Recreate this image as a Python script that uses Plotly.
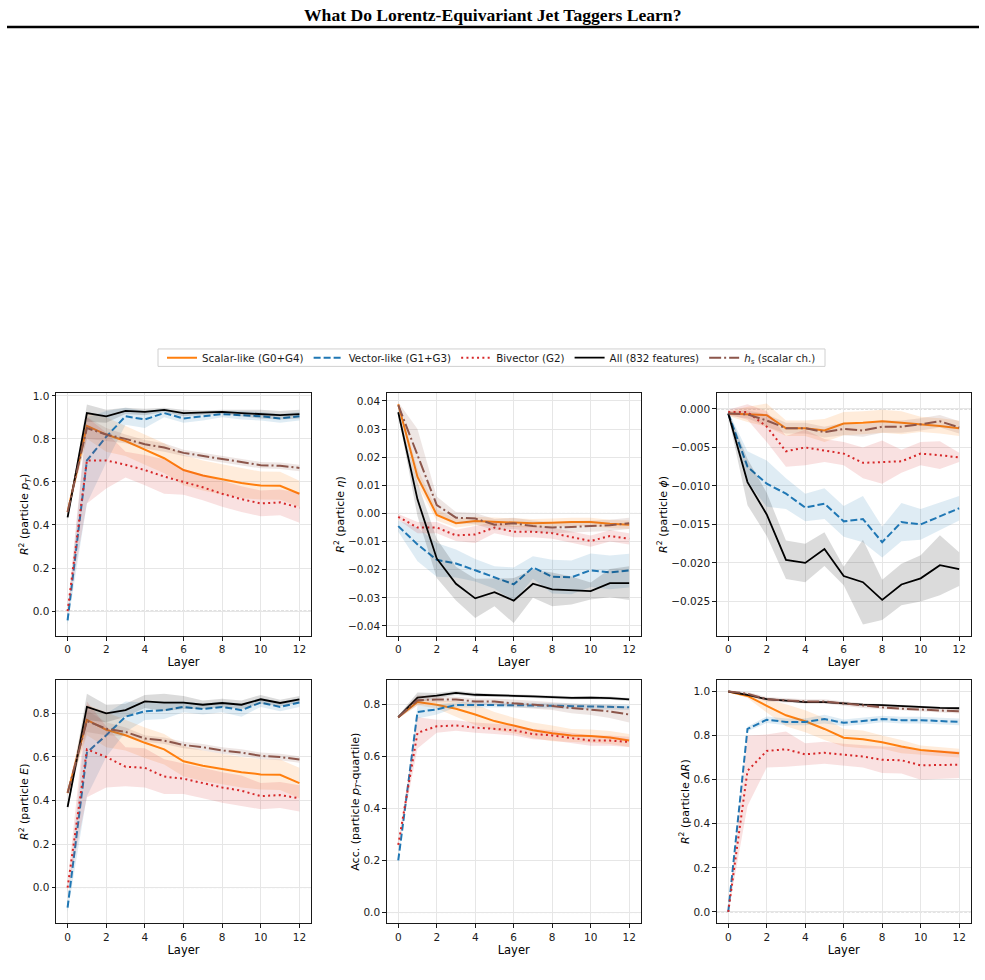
import plotly.graph_objects as go

LAYERS = list(range(13))
SERIES_NAMES = ["Scalar-like (G0+G4)", "Vector-like (G1+G3)", "Bivector (G2)",
                "All (832 features)", "<i>h<sub>s</sub></i> (scalar ch.)"]

# ---- panel 1: particle pT (R^2) ----
PT_SCALAR = [0.46, 0.86, 0.82, 0.79, 0.75, 0.71, 0.655, 0.63, 0.612, 0.595, 0.583, 0.582, 0.545]
PT_VECTOR = [-0.043, 0.70, 0.81, 0.905, 0.89, 0.92, 0.895, 0.905, 0.915, 0.91, 0.905, 0.895, 0.905]
PT_BIVECTOR = [0.0, 0.70, 0.70, 0.68, 0.655, 0.625, 0.60, 0.575, 0.545, 0.52, 0.50, 0.505, 0.48]
PT_ALL = [0.435, 0.92, 0.905, 0.93, 0.925, 0.935, 0.92, 0.922, 0.925, 0.92, 0.915, 0.91, 0.915]
PT_HS = [0.46, 0.85, 0.82, 0.80, 0.775, 0.76, 0.735, 0.72, 0.705, 0.69, 0.678, 0.675, 0.665]
PT_SCALAR_SD = [0.01, 0.06, 0.08, 0.07, 0.07, 0.07, 0.07, 0.07, 0.07, 0.07, 0.065, 0.065, 0.06]
PT_VECTOR_SD = [0.02, 0.2, 0.12, 0.04, 0.04, 0.02, 0.02, 0.02, 0.015, 0.02, 0.02, 0.02, 0.02]
PT_BIVECTOR_SD = [0.01, 0.2, 0.13, 0.06, 0.07, 0.08, 0.06, 0.06, 0.06, 0.06, 0.06, 0.06, 0.07]
PT_ALL_SD = [0.01, 0.04, 0.03, 0.015, 0.015, 0.01, 0.015, 0.01, 0.01, 0.015, 0.02, 0.02, 0.02]
PT_HS_SD = [0.01, 0.05, 0.03, 0.02, 0.02, 0.02, 0.015, 0.015, 0.015, 0.015, 0.015, 0.015, 0.015]

# ---- panel 2: particle eta (R^2) ----
ETA_SCALAR = [0.0388, 0.013, -0.0005, -0.0035, -0.0027, -0.003, -0.0033, -0.0035, -0.0033, -0.003, -0.003, -0.0037, -0.004]
ETA_VECTOR = [-0.0045, -0.011, -0.0165, -0.0178, -0.0202, -0.0228, -0.0252, -0.0192, -0.0225, -0.0227, -0.0202, -0.021, -0.0203]
ETA_BIVECTOR = [-0.0012, -0.005, -0.005, -0.0078, -0.0075, -0.005, -0.0065, -0.0065, -0.007, -0.0085, -0.0098, -0.008, -0.009]
ETA_ALL = [0.036, 0.005, -0.016, -0.025, -0.0302, -0.028, -0.031, -0.025, -0.027, -0.0274, -0.0276, -0.0248, -0.0248]
ETA_HS = [0.0385, 0.021, 0.003, -0.0015, -0.0018, -0.004, -0.0035, -0.0045, -0.005, -0.0048, -0.0045, -0.0042, -0.0035]
ETA_SCALAR_SD = [0.0005, 0.003, 0.002, 0.0015, 0.0015, 0.0015, 0.0015, 0.0015, 0.0015, 0.0015, 0.0015, 0.0015, 0.0015]
ETA_VECTOR_SD = [0.002, 0.006, 0.006, 0.005, 0.004, 0.004, 0.006, 0.004, 0.006, 0.006, 0.006, 0.006, 0.006]
ETA_BIVECTOR_SD = [0.001, 0.002, 0.002, 0.002, 0.003, 0.002, 0.002, 0.002, 0.002, 0.002, 0.002, 0.002, 0.002]
ETA_ALL_SD = [0.001, 0.006, 0.007, 0.006, 0.007, 0.005, 0.008, 0.005, 0.006, 0.005, 0.003, 0.005, 0.006]
ETA_HS_SD = [0.001, 0.009, 0.003, 0.002, 0.002, 0.002, 0.002, 0.002, 0.002, 0.002, 0.002, 0.002, 0.002]

# ---- panel 3: particle phi (R^2) ----
PHI_SCALAR = [-0.0006, -0.0007, -0.0008, -0.0025, -0.0025, -0.0028, -0.0019, -0.0018, -0.0016, -0.0018, -0.002, -0.0022, -0.0025]
PHI_VECTOR = [-0.0006, -0.0075, -0.0097, -0.011, -0.0128, -0.0123, -0.0146, -0.0143, -0.0173, -0.0147, -0.015, -0.014, -0.0129]
PHI_BIVECTOR = [-0.0004, -0.0004, -0.0023, -0.0055, -0.005, -0.0054, -0.0058, -0.007, -0.0069, -0.0068, -0.0058, -0.006, -0.0063]
PHI_ALL = [-0.0006, -0.0095, -0.0137, -0.0196, -0.02, -0.0182, -0.0217, -0.0225, -0.0248, -0.0228, -0.022, -0.0203, -0.0208]
PHI_HS = [-0.0006, -0.0007, -0.0015, -0.0025, -0.0025, -0.003, -0.0026, -0.0028, -0.0023, -0.0023, -0.002, -0.0016, -0.0024]
PHI_SCALAR_SD = [0.0003, 0.001, 0.0015, 0.001, 0.001, 0.0015, 0.0015, 0.0015, 0.0015, 0.0015, 0.001, 0.001, 0.001]
PHI_VECTOR_SD = [0.0003, 0.002, 0.003, 0.002, 0.0018, 0.002, 0.002, 0.003, 0.002, 0.0025, 0.002, 0.0018, 0.0016]
PHI_BIVECTOR_SD = [0.0003, 0.001, 0.002, 0.002, 0.0023, 0.0015, 0.0015, 0.002, 0.0028, 0.0015, 0.0015, 0.0018, 0.0006]
PHI_ALL_SD = [0.0003, 0.003, 0.0028, 0.0025, 0.0025, 0.0022, 0.0012, 0.0055, 0.0026, 0.0027, 0.003, 0.0039, 0.0022]
PHI_HS_SD = [0.0003, 0.0005, 0.0008, 0.0007, 0.0007, 0.0007, 0.0008, 0.0008, 0.0008, 0.0008, 0.0008, 0.0008, 0.0008]

# ---- panel 4: particle E (R^2) ----
E_SCALAR = [0.435, 0.77, 0.725, 0.70, 0.665, 0.635, 0.58, 0.56, 0.545, 0.53, 0.52, 0.518, 0.48]
E_VECTOR = [-0.092, 0.62, 0.70, 0.785, 0.81, 0.815, 0.83, 0.82, 0.83, 0.815, 0.85, 0.83, 0.85]
E_BIVECTOR = [0.0, 0.635, 0.60, 0.555, 0.55, 0.51, 0.50, 0.48, 0.46, 0.445, 0.42, 0.425, 0.41]
E_ALL = [0.37, 0.83, 0.80, 0.815, 0.855, 0.85, 0.85, 0.84, 0.848, 0.84, 0.865, 0.848, 0.865]
E_HS = [0.435, 0.765, 0.73, 0.715, 0.685, 0.675, 0.655, 0.645, 0.63, 0.62, 0.605, 0.60, 0.588]
E_SCALAR_SD = [0.01, 0.07, 0.08, 0.07, 0.07, 0.07, 0.07, 0.07, 0.07, 0.07, 0.07, 0.07, 0.07]
E_VECTOR_SD = [0.02, 0.2, 0.1, 0.07, 0.04, 0.04, 0.025, 0.025, 0.025, 0.03, 0.02, 0.02, 0.02]
E_BIVECTOR_SD = [0.02, 0.22, 0.14, 0.09, 0.09, 0.08, 0.07, 0.07, 0.07, 0.07, 0.06, 0.06, 0.06]
E_ALL_SD = [0.01, 0.06, 0.04, 0.03, 0.03, 0.04, 0.03, 0.02, 0.02, 0.02, 0.02, 0.015, 0.015]
E_HS_SD = [0.01, 0.05, 0.03, 0.02, 0.015, 0.015, 0.015, 0.015, 0.015, 0.015, 0.015, 0.015, 0.015]

# ---- panel 5: particle pT-quartile (accuracy) ----
Q_SCALAR = [0.75, 0.808, 0.798, 0.782, 0.76, 0.735, 0.718, 0.70, 0.688, 0.68, 0.678, 0.672, 0.66]
Q_VECTOR = [0.20, 0.77, 0.78, 0.797, 0.797, 0.797, 0.797, 0.795, 0.794, 0.792, 0.79, 0.789, 0.788]
Q_BIVECTOR = [0.26, 0.69, 0.715, 0.718, 0.71, 0.705, 0.70, 0.685, 0.68, 0.67, 0.66, 0.66, 0.655]
Q_ALL = [0.75, 0.825, 0.833, 0.843, 0.836, 0.833, 0.832, 0.83, 0.828, 0.824, 0.825, 0.823, 0.818]
Q_HS = [0.75, 0.815, 0.818, 0.818, 0.81, 0.81, 0.803, 0.798, 0.793, 0.785, 0.778, 0.772, 0.76]
Q_SCALAR_SD = [0.005, 0.012, 0.015, 0.03, 0.04, 0.035, 0.03, 0.03, 0.03, 0.025, 0.025, 0.025, 0.025]
Q_VECTOR_SD = [0.005, 0.025, 0.02, 0.01, 0.01, 0.01, 0.01, 0.01, 0.01, 0.01, 0.01, 0.01, 0.01]
Q_BIVECTOR_SD = [0.01, 0.06, 0.025, 0.02, 0.02, 0.02, 0.02, 0.02, 0.02, 0.02, 0.02, 0.02, 0.02]
Q_ALL_SD = [0.005, 0.02, 0.01, 0.008, 0.008, 0.006, 0.006, 0.006, 0.006, 0.006, 0.006, 0.006, 0.006]
Q_HS_SD = [0.005, 0.02, 0.012, 0.01, 0.012, 0.012, 0.015, 0.015, 0.015, 0.02, 0.02, 0.025, 0.03]

# ---- panel 6: particle Delta R (R^2) ----
DR_SCALAR = [1.0, 0.98, 0.935, 0.892, 0.865, 0.83, 0.79, 0.783, 0.77, 0.75, 0.735, 0.727, 0.72]
DR_VECTOR = [0.0, 0.83, 0.872, 0.862, 0.862, 0.875, 0.858, 0.865, 0.875, 0.87, 0.87, 0.866, 0.862]
DR_BIVECTOR = [0.0, 0.64, 0.73, 0.738, 0.715, 0.722, 0.713, 0.705, 0.69, 0.688, 0.665, 0.668, 0.668]
DR_ALL = [1.0, 0.985, 0.965, 0.958, 0.952, 0.952, 0.945, 0.94, 0.938, 0.933, 0.928, 0.926, 0.924]
DR_HS = [1.0, 0.99, 0.965, 0.96, 0.955, 0.955, 0.945, 0.935, 0.928, 0.922, 0.918, 0.915, 0.91]
DR_SCALAR_SD = [0.002, 0.01, 0.03, 0.05, 0.05, 0.05, 0.04, 0.04, 0.03, 0.03, 0.02, 0.02, 0.02]
DR_VECTOR_SD = [0.002, 0.01, 0.015, 0.015, 0.015, 0.02, 0.015, 0.015, 0.015, 0.015, 0.015, 0.015, 0.015]
DR_BIVECTOR_SD = [0.005, 0.16, 0.075, 0.08, 0.05, 0.05, 0.05, 0.05, 0.06, 0.06, 0.065, 0.065, 0.06]
DR_ALL_SD = [0.001, 0.005, 0.005, 0.005, 0.005, 0.005, 0.005, 0.005, 0.005, 0.005, 0.005, 0.005, 0.005]
DR_HS_SD = [0.001, 0.008, 0.01, 0.01, 0.01, 0.01, 0.01, 0.01, 0.01, 0.01, 0.01, 0.01, 0.01]

X_TICKS = [0, 2, 4, 6, 8, 10, 12]

# ---- styles ----
COLORS = ["#ff7f0e", "#1f77b4", "#d62728", "#000000", "#8c564b"]
FILLS = ["rgba(255,127,14,0.15)", "rgba(31,119,180,0.14)", "rgba(214,39,40,0.14)",
         "rgba(0,0,0,0.14)", "rgba(140,86,75,0.15)"]
DASHES = ["solid", "7px,3px", "2px,3.3px", "solid", "12px,3px,2px,3px"]
WIDTHS = [2, 2, 2, 1.8, 2]

PANELS = [
    dict(means=[PT_SCALAR, PT_VECTOR, PT_BIVECTOR, PT_ALL, PT_HS],
         sds=[PT_SCALAR_SD, PT_VECTOR_SD, PT_BIVECTOR_SD, PT_ALL_SD, PT_HS_SD],
         title="<i>R</i><sup>2</sup> (particle <i>p<sub>T</sub></i>)",
         yrange=[-0.116, 1.014], dtick=0.2, fmt=".1f"),
    dict(means=[ETA_SCALAR, ETA_VECTOR, ETA_BIVECTOR, ETA_ALL, ETA_HS],
         sds=[ETA_SCALAR_SD, ETA_VECTOR_SD, ETA_BIVECTOR_SD, ETA_ALL_SD, ETA_HS_SD],
         title="<i>R</i><sup>2</sup> (particle <i>η</i>)",
         yrange=[-0.0436, 0.0429], dtick=0.01, fmt=".2f"),
    dict(means=[PHI_SCALAR, PHI_VECTOR, PHI_BIVECTOR, PHI_ALL, PHI_HS],
         sds=[PHI_SCALAR_SD, PHI_VECTOR_SD, PHI_BIVECTOR_SD, PHI_ALL_SD, PHI_HS_SD],
         title="<i>R</i><sup>2</sup> (particle <i>ϕ</i>)",
         yrange=[-0.0295, 0.0021], dtick=0.005, fmt=".3f"),
    dict(means=[E_SCALAR, E_VECTOR, E_BIVECTOR, E_ALL, E_HS],
         sds=[E_SCALAR_SD, E_VECTOR_SD, E_BIVECTOR_SD, E_ALL_SD, E_HS_SD],
         title="<i>R</i><sup>2</sup> (particle <i>E</i>)",
         yrange=[-0.165, 0.954], dtick=0.2, fmt=".1f"),
    dict(means=[Q_SCALAR, Q_VECTOR, Q_BIVECTOR, Q_ALL, Q_HS],
         sds=[Q_SCALAR_SD, Q_VECTOR_SD, Q_BIVECTOR_SD, Q_ALL_SD, Q_HS_SD],
         title="Acc. (particle <i>p<sub>T</sub></i>-quartile)",
         yrange=[-0.042, 0.893], dtick=0.2, fmt=".1f"),
    dict(means=[DR_SCALAR, DR_VECTOR, DR_BIVECTOR, DR_ALL, DR_HS],
         sds=[DR_SCALAR_SD, DR_VECTOR_SD, DR_BIVECTOR_SD, DR_ALL_SD, DR_HS_SD],
         title="<i>R</i><sup>2</sup> (particle <i>ΔR</i>)",
         yrange=[-0.0525, 1.0525], dtick=0.2, fmt=".1f"),
]

W, H = 985, 980
COL_X = [(56, 311), (386.7, 640.7), (716.7, 970.7)]
ROW_Y = [(391, 635), (679, 923.3)]
LEGEND_BOX = (158, 347, 825, 364.5)

FONT = "DejaVu Sans"
fig = go.Figure()
layout = dict(
    width=W, height=H, margin=dict(l=0, r=0, t=0, b=0), autosize=False,
    paper_bgcolor="white", plot_bgcolor="white",
    font=dict(family=FONT, size=10.5, color="#000000"),
    showlegend=True,
    legend=dict(orientation="h", x=(LEGEND_BOX[0] + LEGEND_BOX[2]) / 2 / W, xanchor="center",
                y=1 - (LEGEND_BOX[1] + LEGEND_BOX[3]) / 2 / H, yanchor="middle",
                font=dict(family=FONT, size=10.3, color="#1a1a1a"), borderwidth=0,
                bgcolor="rgba(0,0,0,0)", itemwidth=30, tracegroupgap=0),
)
shapes = [dict(type="rect", xref="paper", yref="paper",
               x0=LEGEND_BOX[0] / W, x1=LEGEND_BOX[2] / W,
               y0=1 - LEGEND_BOX[3] / H, y1=1 - LEGEND_BOX[1] / H,
               line=dict(color="#d0d0d0", width=1), fillcolor="white", layer="below")]

for i, p in enumerate(PANELS):
    r, c = divmod(i, 3)
    n = "" if i == 0 else str(i + 1)
    xa, ya = "x" + n, "y" + n
    for k in range(5):
        m, s = p["means"][k], p["sds"][k]
        upper = [a + b for a, b in zip(m, s)]
        lower = [a - b for a, b in zip(m, s)]
        fig.add_trace(go.Scatter(
            x=LAYERS + LAYERS[::-1], y=upper + lower[::-1], fill="toself",
            fillcolor=FILLS[k], line=dict(width=0), mode="lines",
            hoverinfo="skip", showlegend=False, xaxis=xa, yaxis=ya))
        fig.add_trace(go.Scatter(
            x=LAYERS, y=m, mode="lines", name=SERIES_NAMES[k],
            line=dict(color=COLORS[k], width=WIDTHS[k], dash=DASHES[k]),
            showlegend=(i == 0), xaxis=xa, yaxis=ya))
    x0, x1 = COL_X[c]
    y0, y1 = ROW_Y[r]
    axcommon = dict(showline=True, mirror=True, linecolor="#1a1a1a", linewidth=1,
                    ticks="outside", ticklen=3.5, tickwidth=0.8, tickcolor="#1a1a1a",
                    showgrid=True, gridcolor="#e6e6e6", gridwidth=0.8, zeroline=False,
                    tickfont=dict(family=FONT, size=10.5, color="#1a1a1a"))
    layout["xaxis" + n] = dict(
        domain=[x0 / W, x1 / W], anchor=ya, range=[-0.6, 12.6],
        tickmode="array", tickvals=X_TICKS,
        title=dict(text="Layer", font=dict(family=FONT, size=11.5), standoff=3),
        **axcommon)
    layout["yaxis" + n] = dict(
        domain=[1 - y1 / H, 1 - y0 / H], anchor=xa, range=p["yrange"],
        tick0=0, dtick=p["dtick"], tickformat=p["fmt"],
        title=dict(text=p["title"], font=dict(family=FONT, size=11), standoff=1),
        **axcommon)
    shapes.append(dict(type="line", xref=xa + " domain", yref=ya, x0=0, x1=1, y0=0, y1=0,
                       line=dict(color="rgba(110,110,110,0.55)", width=0.9, dash="3px,1.5px"),
                       layer="below"))

# page header rule
shapes.append(dict(type="line", xref="paper", yref="paper", x0=7 / W, x1=979 / W,
                   y0=1 - 24 / H, y1=1 - 24 / H, line=dict(color="black", width=2.5)))
layout["shapes"] = shapes
layout["annotations"] = [dict(
    text="<b>What Do Lorentz-Equivariant Jet Taggers Learn?</b>",
    xref="paper", yref="paper", x=0.5, y=1 - 12 / H, xanchor="center", yanchor="middle",
    showarrow=False, font=dict(family="Liberation Serif", size=17.6, color="black"))]

fig.update_layout(**layout)
fig.write_html("out.html")
